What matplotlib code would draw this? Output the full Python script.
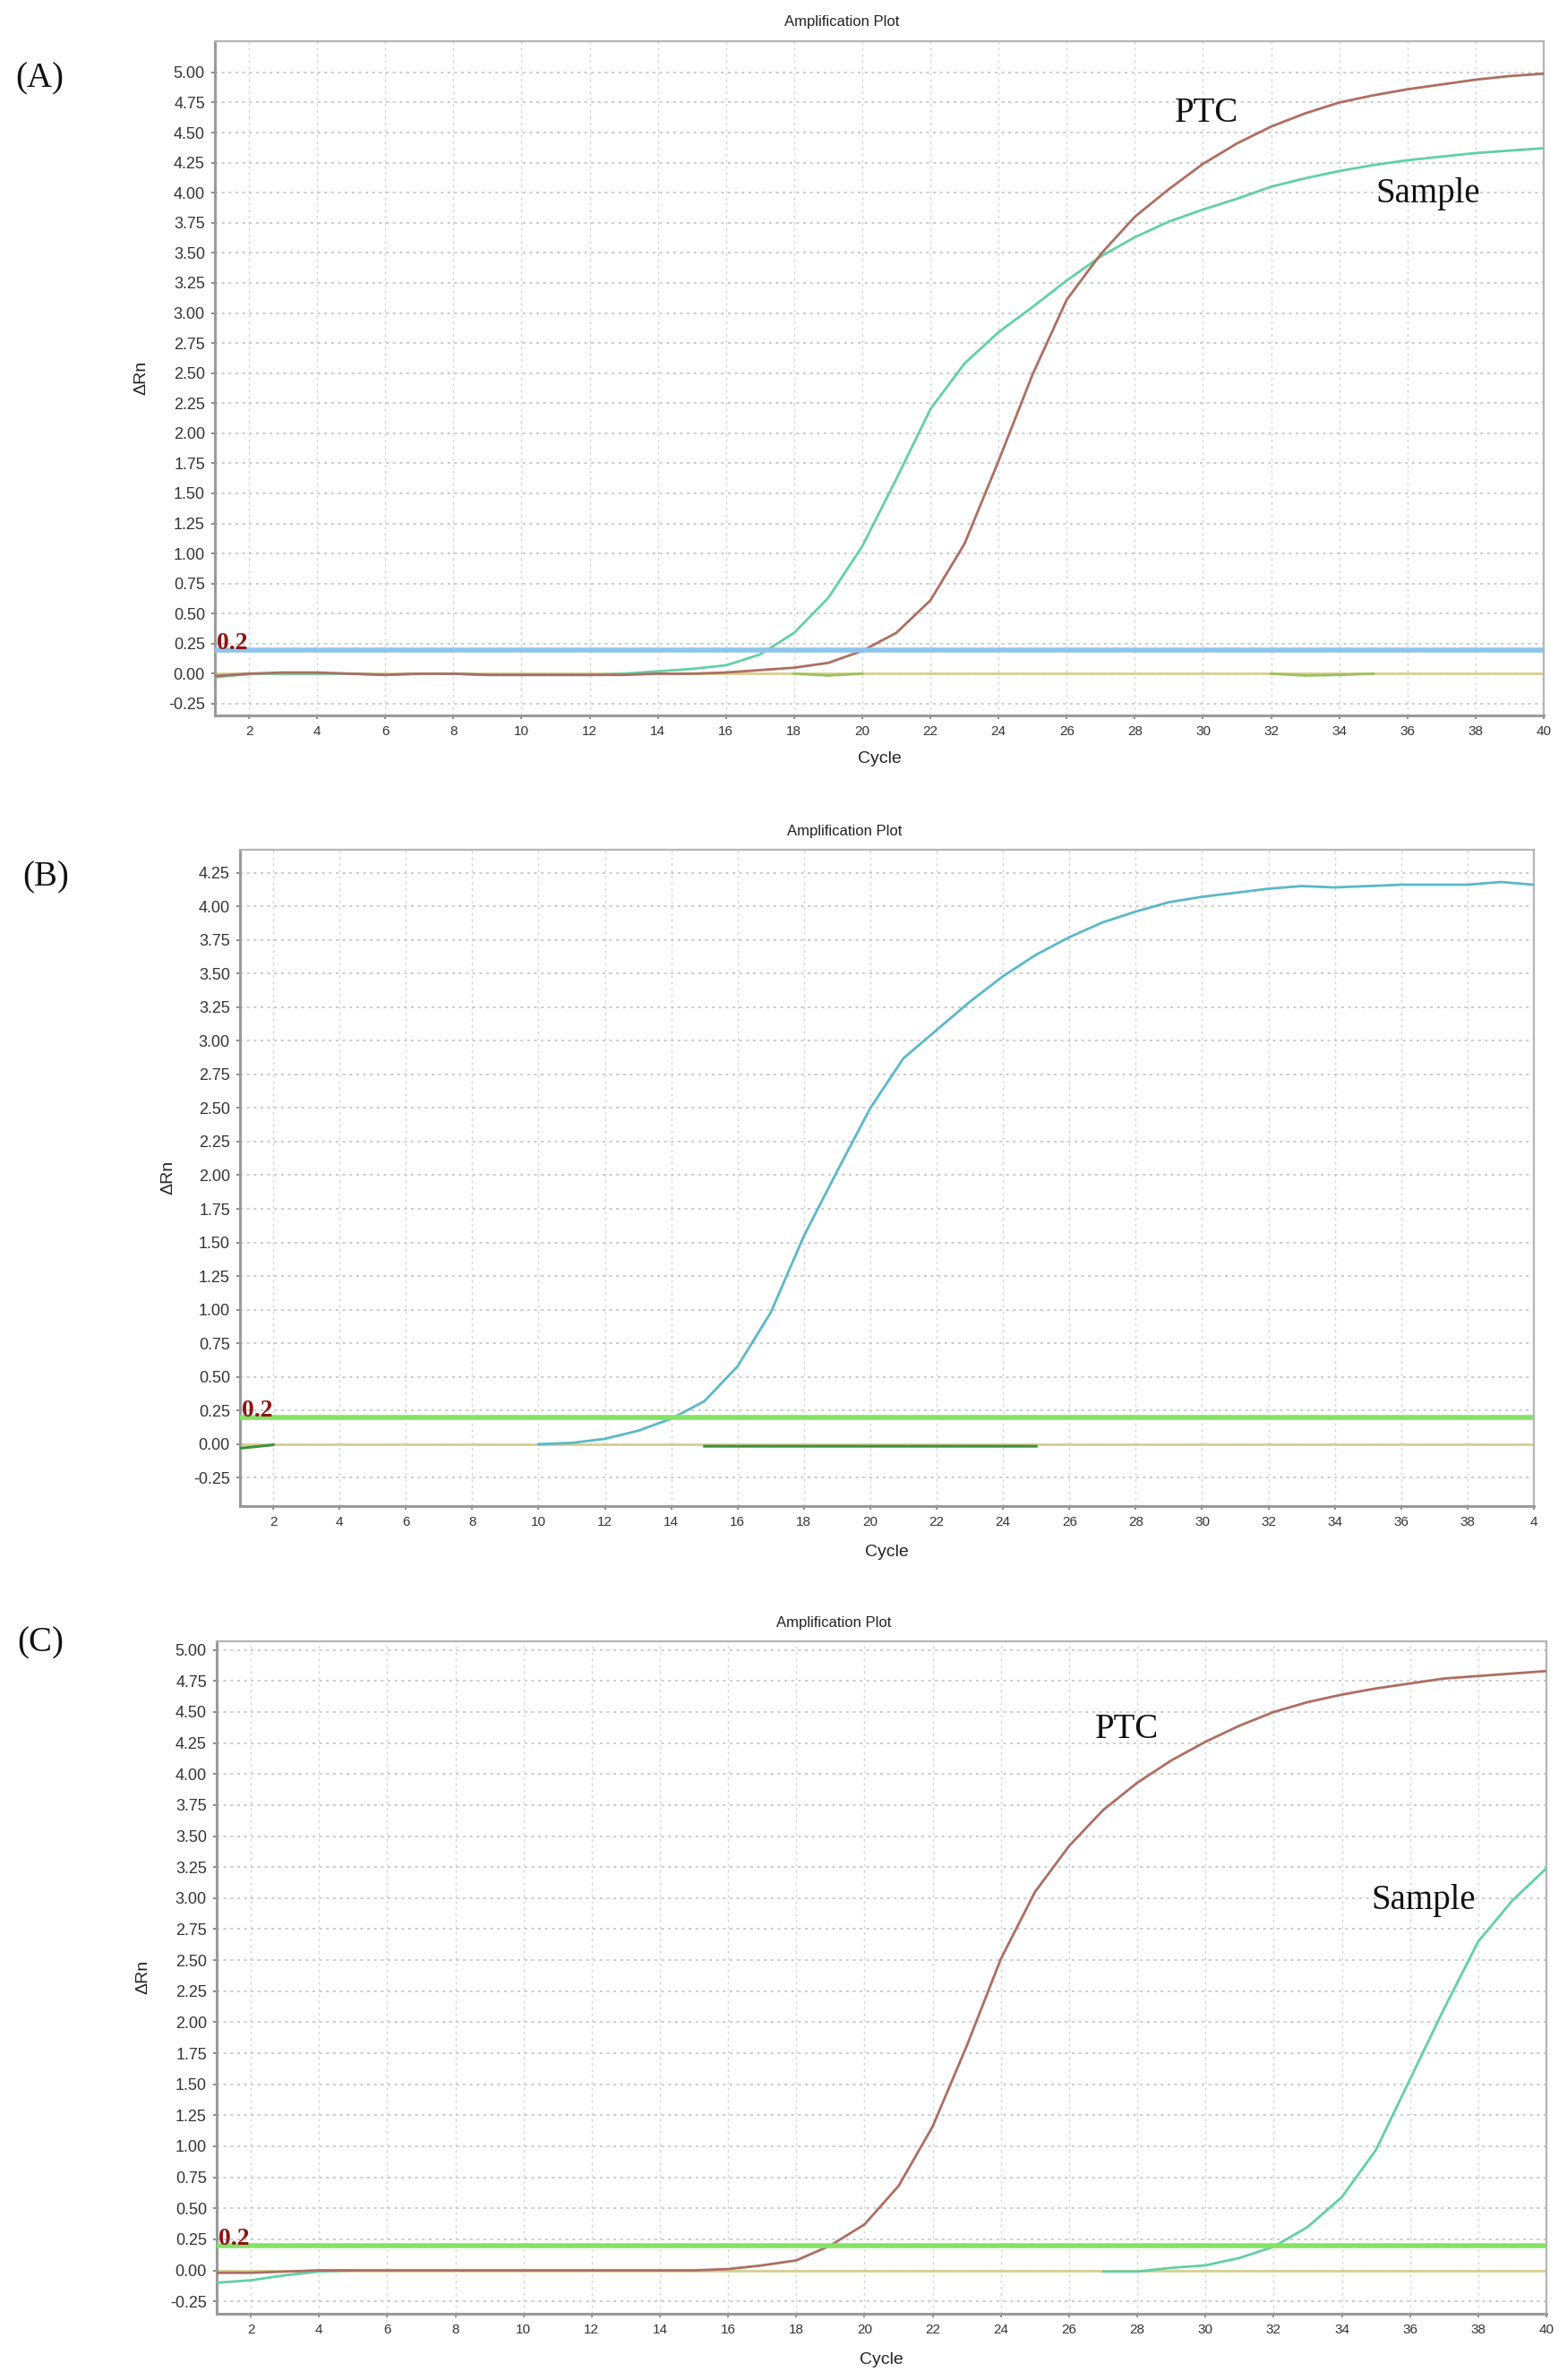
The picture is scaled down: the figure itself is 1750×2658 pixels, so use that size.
import numpy as np
import matplotlib
matplotlib.use("Agg")
import matplotlib.pyplot as plt

# ---- data ----
cycles = np.arange(1, 41)
nan = np.nan

# (A)
ptc_a = [-0.02, 0.00, 0.01, 0.01, 0.00, -0.01, 0.00, 0.00, -0.01, -0.01,
         -0.01, -0.01, -0.01, 0.00, 0.00, 0.01, 0.03, 0.05, 0.09, 0.19,
         0.34, 0.61, 1.08, 1.77, 2.49, 3.11, 3.49, 3.80, 4.03, 4.24,
         4.41, 4.55, 4.66, 4.75, 4.81, 4.86, 4.90, 4.94, 4.97, 4.99]
sample_a = [-0.03, 0.00, 0.00, 0.00, 0.00, -0.01, 0.00, 0.00, -0.01, -0.01,
            -0.01, -0.01, 0.00, 0.02, 0.04, 0.07, 0.16, 0.34, 0.63, 1.06,
            1.62, 2.20, 2.58, 2.84, 3.05, 3.27, 3.47, 3.63, 3.76, 3.86,
            3.95, 4.05, 4.12, 4.18, 4.23, 4.27, 4.30, 4.33, 4.35, 4.37]
ntc_a = [-0.02, -0.005, nan, nan, nan, nan, nan, nan, nan, nan,
         nan, nan, nan, nan, nan, nan, nan, 0.00, -0.015, 0.00,
         nan, nan, nan, nan, nan, nan, nan, nan, nan, nan,
         nan, 0.00, -0.015, -0.01, 0.00, nan, nan, nan, nan, nan]

# (B)
sample_b = [nan, nan, nan, nan, nan, nan, nan, nan, nan, 0.00,
            0.01, 0.04, 0.10, 0.19, 0.32, 0.58, 0.98, 1.55, 2.03, 2.50,
            2.87, 3.08, 3.29, 3.48, 3.64, 3.77, 3.88, 3.96, 4.03, 4.07,
            4.10, 4.13, 4.15, 4.14, 4.15, 4.16, 4.16, 4.16, 4.18, 4.16]
ntc_b = [-0.03, -0.005, nan, nan, nan, nan, nan, nan, nan, nan,
         nan, nan, nan, nan, -0.015, -0.015, -0.015, -0.015, -0.015, -0.015,
         -0.015, -0.015, -0.015, -0.015, -0.015, nan, nan, nan, nan, nan,
         nan, nan, nan, nan, nan, nan, nan, nan, nan, nan]

# (C)
ptc_c = [-0.02, -0.02, -0.01, 0.00, 0.00, 0.00, 0.00, 0.00, 0.00, 0.00,
         0.00, 0.00, 0.00, 0.00, 0.00, 0.01, 0.04, 0.08, 0.20, 0.37,
         0.68, 1.16, 1.81, 2.51, 3.05, 3.42, 3.71, 3.93, 4.11, 4.26,
         4.39, 4.50, 4.58, 4.64, 4.69, 4.73, 4.77, 4.79, 4.81, 4.83]
sample_c = [-0.10, -0.08, -0.04, -0.01, 0.00, nan, nan, nan, nan, nan,
            nan, nan, nan, nan, nan, nan, nan, nan, nan, nan,
            nan, nan, nan, nan, nan, nan, -0.01, -0.01, 0.02, 0.04,
            0.10, 0.19, 0.35, 0.59, 0.97, 1.54, 2.11, 2.65, 2.98, 3.24]

threshold = 0.2
xticks = list(range(2, 41, 2))
xlabels_ac = [str(v) for v in xticks]
xlabels_b = [str(v) for v in xticks[:-1]] + ["4"]
yticks_ac = np.arange(-0.25, 5.01, 0.25)
yticks_b = np.arange(-0.25, 4.26, 0.25)

# ---- figure ----
W, H = 1750, 2658
fig = plt.figure(figsize=(W / 100, H / 100), dpi=100)
fig.patch.set_facecolor("white")

sans = ["Liberation Sans", "DejaVu Sans"]
serif = ["Liberation Serif", "DejaVu Serif"]

PTC_COL = "#ad6e62"
SAMPLE_COL = "#62d0a4"
SAMPLE_B_COL = "#5bb8c6"


def box(x0, y0, x1, y1):
    return [x0 / W, 1 - y1 / H, (x1 - x0) / W, (y1 - y0) / H]


def ftext(x, y, s, **kw):
    fig.text(x / W, 1 - y / H, s, **kw)


def style(ax, ylim, yticks, xlabels):
    ax.set_xlim(1, 40)
    ax.set_ylim(*ylim)
    ax.set_xticks(xticks)
    ax.set_xticklabels(xlabels, fontfamily=sans)
    ax.set_yticks(yticks)
    ax.set_yticklabels(["%.2f" % v for v in yticks], fontfamily=sans)
    ax.tick_params(axis="y", labelsize=13, length=3, width=1.2,
                   color="#777777", labelcolor="#333333", pad=5)
    ax.tick_params(axis="x", labelsize=11, length=3, width=1.2,
                   color="#777777", labelcolor="#333333", pad=5)
    ax.yaxis.grid(True, linestyle=(0, (2, 3)), color="#bdbdbd", lw=1.1)
    ax.xaxis.grid(True, linestyle=(0, (2, 3)), color="#d4d4d4", lw=1.0)
    ax.set_axisbelow(True)
    for side in ["left", "bottom"]:
        ax.spines[side].set_color("#9a9a9a")
        ax.spines[side].set_linewidth(2.2)
    for side in ["top", "right"]:
        ax.spines[side].set_color("#b5b5b5")
        ax.spines[side].set_linewidth(1.6)


def thr_label(ax):
    ax.text(1.05, threshold + 0.005, "0.2", color="#8b1515", fontsize=20,
            fontweight="bold", fontfamily=serif, ha="left", va="baseline",
            zorder=6)


# (A)
axA = fig.add_axes(box(240, 46, 1724, 799))
style(axA, (-0.347, 5.26), yticks_ac, xlabels_ac)
axA.axhline(0, color="#d6cf8e", lw=2, zorder=2)
axA.plot(cycles, ntc_a, color="#9cc25a", lw=2, zorder=3)
axA.plot(cycles, sample_a, color=SAMPLE_COL, lw=2, zorder=4)
axA.plot(cycles, ptc_a, color=PTC_COL, lw=2, zorder=4)
axA.axhline(threshold, color="#8cc4ec", lw=4, zorder=5)
thr_label(axA)
axA.text(30.1, 4.66, "PTC", fontsize=28, fontfamily=serif, ha="center",
         va="center", color="#111111")
axA.text(36.6, 3.99, "Sample", fontsize=28, fontfamily=serif, ha="center",
         va="center", color="#111111")

# (B)
axB = fig.add_axes(box(268, 949, 1713, 1682))
style(axB, (-0.46, 4.42), yticks_b, xlabels_b)
axB.axhline(0, color="#d6cf8e", lw=2, zorder=2)
axB.plot(cycles, ntc_b, color="#3f8f3f", lw=2.2, zorder=3)
axB.plot(cycles, sample_b, color=SAMPLE_B_COL, lw=2, zorder=4)
axB.axhline(threshold, color="#84e266", lw=4, zorder=5)
thr_label(axB)

# (C)
axC = fig.add_axes(box(242, 1833, 1727, 2584))
style(axC, (-0.35, 5.07), yticks_ac, xlabels_ac)
axC.axhline(0, color="#d6cf8e", lw=2, zorder=2)
axC.plot(cycles, sample_c, color=SAMPLE_COL, lw=2, zorder=3)
axC.plot(cycles, ptc_c, color=PTC_COL, lw=2, zorder=4)
axC.axhline(threshold, color="#84e266", lw=4, zorder=5)
thr_label(axC)
axC.text(27.7, 4.36, "PTC", fontsize=28, fontfamily=serif, ha="center",
         va="center", color="#111111")
axC.text(36.4, 2.98, "Sample", fontsize=28, fontfamily=serif, ha="center",
         va="center", color="#111111")

# titles, axis labels, panel letters
for tx, ty in [(940, 24), (943, 929), (931, 1813)]:
    ftext(tx, ty, "Amplification Plot", fontsize=12, fontfamily=sans,
          ha="center", va="center", color="#222222")
for tx, ty in [(982, 848), (990, 1733), (984, 2636)]:
    ftext(tx, ty, "Cycle", fontsize=14, fontfamily=sans, ha="center",
          va="center", color="#222222")
for tx, ty in [(158, 422), (188, 1315), (160, 2208)]:
    ftext(tx, ty, "ΔRn", fontsize=14, fontfamily=sans, ha="center",
          va="center", rotation=90, color="#222222")
for (tx, ty), s in zip([(44, 88), (51, 980), (45, 1835)], ["(A)", "(B)", "(C)"]):
    ftext(tx, ty, s, fontsize=28, fontfamily=serif, ha="center", va="center",
          color="#111111")

fig.savefig("out.png", dpi=100, facecolor="white")
